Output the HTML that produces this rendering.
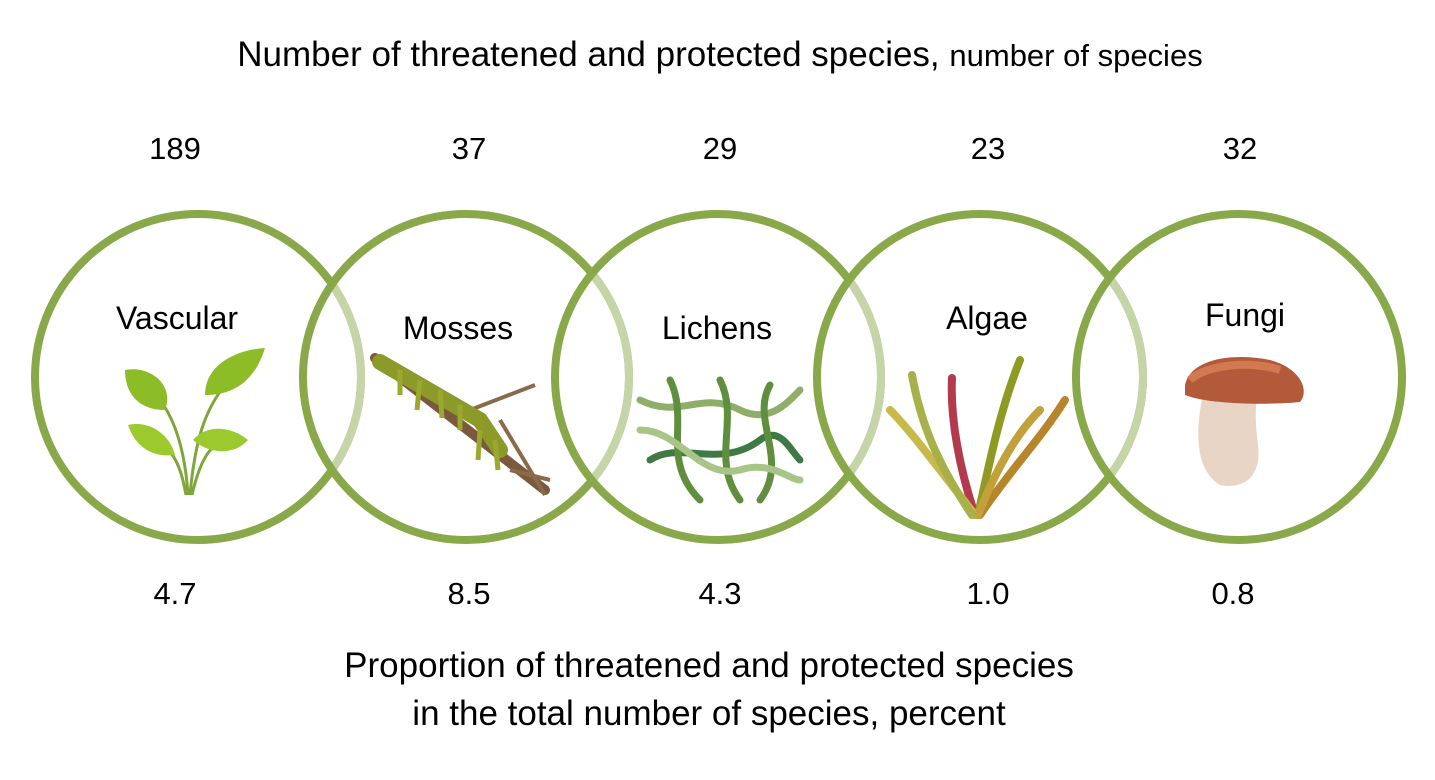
<!DOCTYPE html>
<html><head><meta charset="utf-8"><style>
body{margin:0;background:#fff;}
svg{display:block;font-family:"Liberation Sans",Arial,sans-serif;}
</style></head><body>
<svg width="1435" height="780" viewBox="0 0 1435 780">
<defs>
<clipPath id="c2"><circle cx="466" cy="377" r="160"/></clipPath>
<clipPath id="c3"><circle cx="718" cy="377" r="160"/></clipPath>
<clipPath id="c4"><circle cx="980" cy="377" r="160"/></clipPath>
<clipPath id="c5"><circle cx="1239" cy="377" r="160"/></clipPath>
</defs>
<text x="720" y="66" font-size="35" text-anchor="middle" fill="#000">Number of threatened and protected species, <tspan font-size="31">number of species</tspan></text>
<g font-size="31" text-anchor="middle" fill="#000">
<text x="175" y="159">189</text><text x="469" y="159">37</text><text x="720" y="159">29</text><text x="988" y="159">23</text><text x="1240" y="159">32</text>
<text x="175" y="604">4.7</text><text x="469" y="604">8.5</text><text x="720" y="604">4.3</text><text x="988" y="604">1.0</text><text x="1233" y="604">0.8</text>
</g>
<g font-size="32" text-anchor="middle" fill="#000">
<text x="177" y="329">Vascular</text><text x="458" y="339">Mosses</text><text x="717" y="339">Lichens</text><text x="987" y="329">Algae</text><text x="1245" y="326">Fungi</text>
</g>
<g font-size="35" text-anchor="middle" fill="#000">
<text x="709" y="677">Proportion of threatened and protected species</text>
<text x="709" y="725">in the total number of species, percent</text>
</g>
<g fill="none" stroke-width="8">
<circle cx="198" cy="377" r="163" stroke="#89a84a"/>
<circle cx="198" cy="377" r="163" stroke="#c6d5a8" clip-path="url(#c2)"/>
<circle cx="466" cy="377" r="163" stroke="#89a84a"/>
<circle cx="466" cy="377" r="163" stroke="#c6d5a8" clip-path="url(#c3)"/>
<circle cx="718" cy="377" r="163" stroke="#89a84a"/>
<circle cx="718" cy="377" r="163" stroke="#c6d5a8" clip-path="url(#c4)"/>
<circle cx="980" cy="377" r="163" stroke="#89a84a"/>
<circle cx="980" cy="377" r="163" stroke="#c6d5a8" clip-path="url(#c5)"/>
<circle cx="1239" cy="377" r="163" stroke="#89a84a"/>
</g>
<g>
<path d="M188 495 C185 450 175 420 160 400 M190 495 C195 440 205 410 225 385 M186 495 C180 460 170 445 150 440 M192 495 C200 460 210 445 225 440" stroke="#7ea63a" stroke-width="3" fill="none"/>
<path d="M125 370 C150 365 175 385 165 410 C140 410 125 395 125 370Z" fill="#8cbd26"/>
<path d="M265 348 C235 350 205 365 205 395 C235 395 255 380 265 348Z" fill="#8cbd26"/>
<path d="M128 425 C150 420 170 435 175 455 C150 458 135 445 128 425Z" fill="#9cc92e"/>
<path d="M248 440 C230 425 205 425 193 440 C210 455 235 455 248 440Z" fill="#9cc92e"/>
</g>
<g>
<path d="M375 358 L545 490" stroke="#7a5a3c" stroke-width="10" stroke-linecap="round"/>
<path d="M470 410 L535 385 M500 420 L545 495 M510 470 L550 480" stroke="#8a6a4a" stroke-width="4" fill="none"/>
<path d="M380 362 L480 420 L500 450" stroke="#8c9a2a" stroke-width="16" stroke-linecap="round" fill="none"/>
<path d="M400 370 l0 25 M420 380 l-3 30 M440 390 l2 28 M460 405 l0 25 M480 430 l-2 30 M495 440 l3 30" stroke="#9aa82e" stroke-width="5"/>
</g>
<g fill="none" stroke-width="7" stroke-linecap="round">
<path d="M640 400 C680 420 700 390 740 410 C770 425 790 400 800 390" stroke="#8fae6a"/>
<path d="M650 460 C680 440 720 470 760 440 C780 425 790 450 800 460" stroke="#3f7a45"/>
<path d="M670 380 C690 420 660 460 700 500 M720 380 C740 420 710 460 740 500 M770 385 C750 420 790 460 760 500" stroke="#5e8e3e"/>
<path d="M640 430 C680 430 700 480 740 470 C770 460 790 480 800 480" stroke="#a9c487"/>
</g>
<g fill="none" stroke-width="8" stroke-linecap="round">
<path d="M975 515 C960 470 950 420 952 378" stroke="#b23a4c"/>
<path d="M978 515 C990 460 1000 410 1020 360" stroke="#8f9a24"/>
<path d="M975 515 C940 470 910 430 890 410" stroke="#c9b84a"/>
<path d="M980 515 C1010 470 1040 440 1065 400" stroke="#b7852a"/>
<path d="M978 515 C1000 460 1020 430 1040 410" stroke="#c2a03a"/>
<path d="M972 515 C935 460 920 420 912 375" stroke="#a8b04a"/>
</g>
<g>
<path d="M1203 395 C1195 430 1195 470 1220 485 C1245 490 1262 475 1258 445 C1255 420 1255 405 1258 395Z" fill="#e8d5c6"/>
<path d="M1185 385 C1190 360 1230 352 1270 360 C1300 368 1310 390 1300 402 C1270 405 1210 405 1185 395Z" fill="#b35a3a"/>
<path d="M1190 380 C1205 365 1250 360 1280 370" stroke="#d17a52" stroke-width="8" fill="none"/>
</g>
</svg>
</body></html>
